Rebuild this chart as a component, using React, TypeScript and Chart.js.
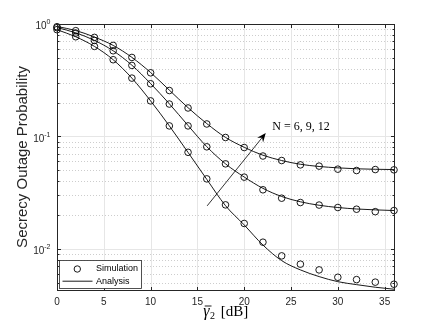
import React, { useEffect, useRef } from "react";
import { Chart, registerables } from "chart.js";

Chart.register(...registerables);

// ---- data ----
const snrDb = [0, 2, 4, 6, 8, 10, 12, 14, 16, 18, 20, 22, 24, 26, 28, 30, 32, 34, 36];

const simN6 = [0.89, 0.77, 0.632, 0.481, 0.33, 0.207, 0.124, 0.0722, 0.0419, 0.0246, 0.0168, 0.01145, 0.00865, 0.0073, 0.00649, 0.00558, 0.00532, 0.00505, 0.00484];
const simN9 = [0.927, 0.831, 0.714, 0.578, 0.428, 0.294, 0.194, 0.124, 0.0808, 0.057, 0.0434, 0.0335, 0.0282, 0.0258, 0.0245, 0.0233, 0.0225, 0.0214, 0.0219];
const simN12 = [0.946, 0.872, 0.76, 0.645, 0.504, 0.368, 0.256, 0.179, 0.129, 0.0978, 0.0796, 0.0669, 0.061, 0.0558, 0.0544, 0.0511, 0.0497, 0.0507, 0.0504];

const anaN6 = [0.89, 0.77, 0.632, 0.481, 0.33, 0.207, 0.124, 0.072, 0.0415, 0.0242, 0.0163, 0.0108, 0.00785, 0.00649, 0.00566, 0.0051, 0.0048, 0.00455, 0.00437];
const anaN9 = [0.93, 0.835, 0.715, 0.578, 0.43, 0.295, 0.195, 0.125, 0.081, 0.057, 0.0435, 0.0345, 0.0292, 0.0262, 0.0244, 0.0233, 0.0226, 0.0222, 0.0219];
const anaN12 = [0.95, 0.875, 0.765, 0.645, 0.505, 0.37, 0.258, 0.18, 0.13, 0.098, 0.08, 0.068, 0.061, 0.0565, 0.054, 0.0525, 0.0515, 0.051, 0.0507];

const xTicks = [0, 5, 10, 15, 20, 25, 30, 35];
const yDecades = [0.01, 0.1, 1];
const yDecadeExp = ["-2", "-1", "0"];
const yMinor = [0.005, 0.006, 0.007, 0.008, 0.009, 0.02, 0.03, 0.04, 0.05, 0.06, 0.07, 0.08, 0.09, 0.2, 0.3, 0.4, 0.5, 0.6, 0.7, 0.8, 0.9];

const xMin = 0;
const xMax = 36;
const yMin = 0.0043;
const yMax = 1;

const annotationText = "N = 6, 9, 12";
const annotationAt = { x: 23.0, y: 0.1218 };
const arrowFrom = { x: 16.04, y: 0.0241 };
const arrowTo = { x: 22.3, y: 0.107 };

const legendLabels = ["Simulation", "Analysis"];
const yTitle = "Secrecy Outage Probability";

const SANS = "'Liberation Sans', Arial, Helvetica, sans-serif";
const SERIF = "'Liberation Serif', 'Times New Roman', serif";
const AXIS = "#262626";

const toXY = (ys: number[]) => snrDb.map((x, i) => ({ x, y: ys[i] }));

const decorPlugin = {
  id: "matlabDecor",
  beforeDraw(chart: any) {
    const ctx = chart.ctx;
    ctx.save();
    ctx.fillStyle = "#ffffff";
    ctx.fillRect(0, 0, chart.width, chart.height);
    ctx.restore();
  },
  beforeDatasetsDraw(chart: any) {
    const { ctx, chartArea: a, scales } = chart;
    const xs = scales.x;
    const ys = scales.y;
    ctx.save();
    ctx.lineWidth = 1;
    ctx.strokeStyle = "#cdcdcd";
    ctx.setLineDash([1, 2]);
    for (const v of yMinor) {
      const py = Math.round(ys.getPixelForValue(v)) + 0.5;
      ctx.beginPath();
      ctx.moveTo(a.left, py);
      ctx.lineTo(a.right, py);
      ctx.stroke();
    }
    ctx.setLineDash([]);
    ctx.strokeStyle = "#e6e6e6";
    for (const v of yDecades) {
      const py = Math.round(ys.getPixelForValue(v)) + 0.5;
      ctx.beginPath();
      ctx.moveTo(a.left, py);
      ctx.lineTo(a.right, py);
      ctx.stroke();
    }
    for (const v of xTicks) {
      const px = Math.round(xs.getPixelForValue(v)) + 0.5;
      ctx.beginPath();
      ctx.moveTo(px, a.top);
      ctx.lineTo(px, a.bottom);
      ctx.stroke();
    }
    ctx.restore();
  },
  afterDatasetsDraw(chart: any) {
    const { ctx, chartArea: a, scales } = chart;
    const xs = scales.x;
    const ys = scales.y;
    ctx.save();

    const L = Math.round(a.left) + 0.5;
    const R = Math.round(a.right) + 0.5;
    const T = Math.round(a.top) + 0.5;
    const B = Math.round(a.bottom) + 0.5;
    ctx.strokeStyle = AXIS;
    ctx.lineWidth = 1;
    ctx.strokeRect(L, T, R - L, B - T);

    const majLen = 3.5;
    const minLen = 2;
    ctx.beginPath();
    for (const v of xTicks) {
      const px = Math.round(xs.getPixelForValue(v)) + 0.5;
      ctx.moveTo(px, B);
      ctx.lineTo(px, B - majLen);
      ctx.moveTo(px, T);
      ctx.lineTo(px, T + majLen);
    }
    for (const v of yDecades) {
      const py = Math.round(ys.getPixelForValue(v)) + 0.5;
      ctx.moveTo(L, py);
      ctx.lineTo(L + majLen, py);
      ctx.moveTo(R, py);
      ctx.lineTo(R - majLen, py);
    }
    for (const v of yMinor) {
      const py = Math.round(ys.getPixelForValue(v)) + 0.5;
      ctx.moveTo(L, py);
      ctx.lineTo(L + minLen, py);
      ctx.moveTo(R, py);
      ctx.lineTo(R - minLen, py);
    }
    ctx.stroke();

    ctx.fillStyle = AXIS;
    ctx.font = `10px ${SANS}`;
    ctx.textAlign = "center";
    ctx.textBaseline = "middle";
    for (const v of xTicks) {
      ctx.fillText(String(v), xs.getPixelForValue(v), a.bottom + 12);
    }

    yDecades.forEach((v, i) => {
      const py = ys.getPixelForValue(v);
      const exp = yDecadeExp[i];
      ctx.font = `7px ${SANS}`;
      const supW = ctx.measureText(exp).width;
      ctx.font = `10px ${SANS}`;
      const mainW = ctx.measureText("10").width;
      const right = a.left - 6.5;
      ctx.textAlign = "left";
      ctx.textBaseline = "middle";
      ctx.fillText("10", right - supW - mainW, py + 2.7);
      ctx.font = `7px ${SANS}`;
      ctx.fillText(exp, right - supW, py - 1.5);
    });

    ctx.save();
    ctx.translate(23, (a.top + a.bottom) / 2);
    ctx.rotate(-Math.PI / 2);
    ctx.font = `15px ${SANS}`;
    ctx.textAlign = "center";
    ctx.textBaseline = "middle";
    ctx.fillStyle = AXIS;
    ctx.fillText(yTitle, 0, 0);
    ctx.restore();

    // x title: overline gamma_2 [dB]
    ctx.fillStyle = "#000";
    ctx.textBaseline = "alphabetic";
    ctx.textAlign = "left";
    const gFont = `italic 16px ${SERIF}`;
    const sFont = `10px ${SERIF}`;
    const rFont = `15px ${SERIF}`;
    ctx.font = gFont;
    const gW = ctx.measureText("γ").width;
    ctx.font = sFont;
    const sW = ctx.measureText("2").width;
    ctx.font = rFont;
    const rest = " [dB]";
    const rW = ctx.measureText(rest).width;
    const total = gW + sW + 2 + rW;
    const cx = (a.left + a.right) / 2;
    let x0 = cx - total / 2;
    const base = a.bottom + 26;
    ctx.font = gFont;
    ctx.fillText("γ", x0, base);
    ctx.lineWidth = 0.9;
    ctx.strokeStyle = "#000";
    ctx.beginPath();
    ctx.moveTo(x0 + 1.5, base - 10);
    ctx.lineTo(x0 + gW + 2, base - 10);
    ctx.stroke();
    x0 += gW + 0.5;
    ctx.font = sFont;
    ctx.fillText("2", x0, base + 3);
    x0 += sW + 2;
    ctx.font = rFont;
    ctx.fillText(rest, x0, base);

    // arrow
    const ax0 = xs.getPixelForValue(arrowFrom.x);
    const ay0 = ys.getPixelForValue(arrowFrom.y);
    const ax1 = xs.getPixelForValue(arrowTo.x);
    const ay1 = ys.getPixelForValue(arrowTo.y);
    const ang = Math.atan2(ay1 - ay0, ax1 - ax0);
    const headLen = 9;
    const headW = 3.8;
    ctx.strokeStyle = "#000";
    ctx.lineWidth = 0.8;
    ctx.beginPath();
    ctx.moveTo(ax0, ay0);
    ctx.lineTo(ax1 - Math.cos(ang) * headLen * 0.6, ay1 - Math.sin(ang) * headLen * 0.6);
    ctx.stroke();
    const cos = Math.cos(ang);
    const sin = Math.sin(ang);
    const bx = ax1 - cos * headLen;
    const by = ay1 - sin * headLen;
    const nx = ax1 - cos * headLen * 0.65;
    const ny = ay1 - sin * headLen * 0.65;
    ctx.fillStyle = "#000";
    ctx.beginPath();
    ctx.moveTo(ax1, ay1);
    ctx.lineTo(bx - sin * headW, by + cos * headW);
    ctx.lineTo(nx, ny);
    ctx.lineTo(bx + sin * headW, by - cos * headW);
    ctx.closePath();
    ctx.fill();

    ctx.font = `12px ${SERIF}`;
    ctx.textAlign = "left";
    ctx.textBaseline = "middle";
    ctx.fillStyle = "#000";
    ctx.fillText(annotationText, xs.getPixelForValue(annotationAt.x), ys.getPixelForValue(annotationAt.y));

    // legend
    const lx = Math.round(a.left) + 2.5;
    const ly = Math.round(a.bottom) - 29.5;
    const lw = 82;
    const lh = 28;
    ctx.fillStyle = "#fff";
    ctx.fillRect(lx, ly, lw, lh);
    ctx.strokeStyle = AXIS;
    ctx.lineWidth = 0.8;
    ctx.strokeRect(lx, ly, lw, lh);
    const row1 = ly + 8.5;
    const row2 = ly + 20.7;
    ctx.strokeStyle = "#000";
    ctx.lineWidth = 0.9;
    ctx.beginPath();
    ctx.arc(lx + 17.8, row1, 3.2, 0, Math.PI * 2);
    ctx.stroke();
    ctx.beginPath();
    ctx.moveTo(lx + 3, row2);
    ctx.lineTo(lx + 33, row2);
    ctx.stroke();
    ctx.font = `9px ${SANS}`;
    ctx.fillStyle = "#000";
    ctx.textAlign = "left";
    ctx.textBaseline = "middle";
    ctx.fillText(legendLabels[0], lx + 36.5, row1);
    ctx.fillText(legendLabels[1], lx + 36.5, row2);

    ctx.restore();
  },
};

export default function App() {
  const ref = useRef<HTMLCanvasElement | null>(null);

  useEffect(() => {
    document.body.style.margin = "0";
    const canvas = ref.current;
    if (!canvas) return;

    const simStyle = {
      type: "line" as const,
      showLine: false,
      pointStyle: "circle",
      pointRadius: 3.3,
      pointBorderWidth: 0.9,
      pointBorderColor: "#000",
      pointBackgroundColor: "rgba(0,0,0,0)",
      borderColor: "#000",
      clip: false as any,
    };
    const anaStyle = {
      type: "line" as const,
      borderColor: "#000",
      borderWidth: 0.9,
      pointRadius: 0,
      fill: false,
      cubicInterpolationMode: "monotone" as const,
    };

    const chart = new Chart(canvas, {
      type: "line",
      data: {
        datasets: [
          { label: "Analysis N=6", data: toXY(anaN6), ...anaStyle },
          { label: "Analysis N=9", data: toXY(anaN9), ...anaStyle },
          { label: "Analysis N=12", data: toXY(anaN12), ...anaStyle },
          { label: "Simulation N=6", data: toXY(simN6), ...simStyle },
          { label: "Simulation N=9", data: toXY(simN9), ...simStyle },
          { label: "Simulation N=12", data: toXY(simN12), ...simStyle },
        ] as any,
      },
      options: {
        animation: false,
        responsive: false,
        maintainAspectRatio: false,
        devicePixelRatio: 1,
        layout: { padding: { left: 57, top: 24, right: 42, bottom: 37 } },
        plugins: {
          legend: { display: false },
          tooltip: { enabled: false },
        },
        scales: {
          x: { type: "linear", min: xMin, max: xMax, display: false },
          y: { type: "logarithmic", min: yMin, max: yMax, display: false },
        },
      },
      plugins: [decorPlugin],
    });

    return () => chart.destroy();
  }, []);

  return (
    <canvas
      ref={ref}
      width={436}
      height={327}
      style={{ display: "block", position: "fixed", left: 0, top: 0, width: 436, height: 327 }}
    />
  );
}
